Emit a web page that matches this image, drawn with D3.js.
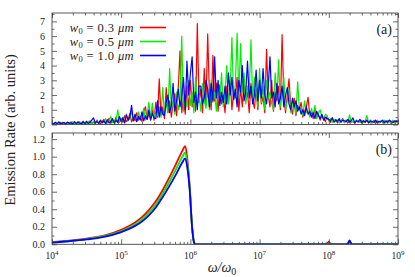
<!DOCTYPE html>
<html>
<head>
<meta charset="utf-8">
<script src="https://cdn.jsdelivr.net/npm/d3@7"></script>
<style>
  body { margin: 0; background: #fff; }
  text { font-family: "Liberation Serif", "DejaVu Serif", serif; fill: #222; }
  .domain { display: none; }
  .tick line { stroke: #444; stroke-width: 0.8; }
</style>
</head>
<body>
<svg id="chart" width="415" height="277"></svg>
<script>
// panel (a): emission spectrum, log10(omega/omega0) sample positions
const logOmegaA = [
  4.000, 4.025, 4.050, 4.075, 4.100, 4.125, 4.150, 4.175, 4.200, 4.225,
  4.250, 4.275, 4.300, 4.325, 4.350, 4.375, 4.400, 4.425, 4.450, 4.475,
  4.500, 4.525, 4.550, 4.575, 4.600, 4.625, 4.650, 4.675, 4.700, 4.725,
  4.750, 4.775, 4.800, 4.825, 4.850, 4.875, 4.900, 4.925, 4.950, 4.975,
  5.000, 5.025, 5.050, 5.075, 5.100, 5.125, 5.150, 5.175, 5.200, 5.225,
  5.250, 5.275, 5.300, 5.325, 5.350, 5.375, 5.400, 5.425, 5.450, 5.475,
  5.500, 5.525, 5.550, 5.575, 5.600, 5.625, 5.650, 5.675, 5.700, 5.725,
  5.750, 5.775, 5.800, 5.825, 5.850, 5.875, 5.900, 5.925, 5.950, 5.975,
  6.000, 6.025, 6.050, 6.075, 6.100, 6.125, 6.150, 6.175, 6.200, 6.225,
  6.250, 6.275, 6.300, 6.325, 6.350, 6.375, 6.400, 6.425, 6.450, 6.475,
  6.500, 6.525, 6.550, 6.575, 6.600, 6.625, 6.650, 6.675, 6.700, 6.725,
  6.750, 6.775, 6.800, 6.825, 6.850, 6.875, 6.900, 6.925, 6.950, 6.975,
  7.000, 7.025, 7.050, 7.075, 7.100, 7.125, 7.150, 7.175, 7.200, 7.225,
  7.250, 7.275, 7.300, 7.325, 7.350, 7.375, 7.400, 7.425, 7.450, 7.475,
  7.500, 7.525, 7.550, 7.575, 7.600, 7.625, 7.650, 7.675, 7.700, 7.725,
  7.750, 7.775, 7.800, 7.825, 7.850, 7.875, 7.900, 7.925, 7.950, 7.975,
  8.000, 8.025, 8.050, 8.075, 8.100, 8.125, 8.150, 8.175, 8.200, 8.225,
  8.250, 8.275, 8.300, 8.325, 8.350, 8.375, 8.400, 8.425, 8.450, 8.475,
  8.500, 8.525, 8.550, 8.575, 8.600, 8.625, 8.650, 8.675, 8.700, 8.725,
  8.750, 8.775, 8.800, 8.825, 8.850, 8.875, 8.900, 8.925, 8.950, 8.975,
  9.000
];
const rateA03 = [
  0.08, 0.02, 0.12, 0.05, 0.03, 0.14, 0.04, 0.10, 0.02, 0.15,
  0.05, 0.18, 0.03, 0.12, 0.06, 0.20, 0.04, 0.10, 0.22, 0.05,
  0.15, 0.08, 0.25, 0.04, 0.18, 0.06, 0.30, 0.10, 0.05, 0.22,
  0.35, 0.08, 0.20, 0.42, 0.10, 0.30, 0.15, 0.50, 0.12, 0.28,
  0.40, 0.15, 0.60, 0.20, 0.35, 0.75, 0.18, 0.45, 0.25, 0.80,
  0.30, 0.55, 0.20, 0.90, 1.20, 0.35, 0.70, 0.40, 1.00, 0.30,
  1.50, 0.50, 3.10, 0.60, 1.20, 0.40, 2.50, 0.80, 1.60, 0.50,
  1.40, 2.10, 0.60, 2.50, 5.00, 0.80, 1.80, 0.70, 2.60, 1.00,
  3.00, 1.20, 2.20, 0.90, 6.85, 1.50, 2.40, 0.80, 3.80, 1.30,
  6.15, 2.00, 1.00, 4.70, 1.60, 2.80, 0.90, 2.70, 1.40, 2.00,
  0.80, 2.60, 1.50, 3.00, 1.00, 2.20, 1.80, 3.20, 0.90, 2.50,
  1.20, 3.00, 1.60, 2.20, 0.80, 2.80, 1.70, 1.10, 2.40, 1.00,
  3.20, 1.40, 1.90, 0.80, 5.10, 2.00, 1.20, 3.00, 0.90, 2.20,
  1.60, 2.60, 1.00, 6.10, 1.80, 0.80, 2.00, 3.10, 1.20, 0.70,
  1.80, 0.60, 1.30, 1.00, 1.50, 0.50, 0.90, 1.20, 1.85, 0.60,
  0.80, 0.40, 1.10, 0.50, 0.70, 0.30, 0.60, 0.40, 0.20, 0.55,
  0.30, 0.15, 0.45, 0.20, 0.35, 0.10, 0.30, 0.20, 0.40, 0.12,
  0.25, 0.10, 0.30, 0.15, 0.22, 0.08, 0.28, 0.15, 0.20, 0.10,
  0.25, 0.12, 0.30, 0.10, 0.20, 0.15, 0.28, 0.08, 0.22, 0.12,
  0.18, 0.30, 0.10, 0.22, 0.15, 0.25, 0.08, 0.20, 0.12, 0.28,
  0.15
];
const rateA05 = [
  0.03, 0.10, 0.05, 0.02, 0.12, 0.04, 0.15, 0.03, 0.08, 0.05,
  0.14, 0.04, 0.18, 0.06, 0.10, 0.03, 0.20, 0.08, 0.05, 0.16,
  0.06, 0.22, 0.10, 0.05, 0.18, 0.08, 0.25, 0.05, 0.30, 0.10,
  0.15, 0.40, 0.10, 0.25, 0.55, 0.12, 0.30, 0.20, 1.00, 0.15,
  0.30, 0.50, 0.20, 0.70, 0.25, 0.40, 0.90, 0.30, 0.60, 0.20,
  0.85, 0.35, 0.50, 1.10, 0.30, 0.70, 1.50, 0.40, 1.45, 0.50,
  0.90, 0.60, 1.20, 0.50, 2.50, 0.70, 1.40, 0.80, 3.80, 0.90,
  1.60, 0.70, 2.20, 1.00, 1.50, 6.00, 0.90, 1.80, 1.20, 3.00,
  1.30, 2.20, 0.80, 3.20, 1.40, 2.00, 0.90, 2.80, 1.60, 1.10,
  2.40, 1.00, 3.00, 1.50, 2.20, 0.90, 2.60, 1.70, 3.50, 1.20,
  2.00, 4.00, 1.40, 2.50, 5.90, 1.60, 2.80, 6.20, 1.80, 5.50,
  2.20, 3.50, 1.40, 2.60, 2.00, 5.75, 1.60, 3.20, 2.40, 1.20,
  3.80, 1.50, 2.60, 1.00, 3.00, 1.80, 2.20, 1.40, 1.00, 3.50,
  1.80, 4.40, 1.20, 2.00, 3.20, 1.00, 1.60, 2.40, 0.80, 1.50,
  1.30, 0.70, 2.90, 1.00, 1.20, 0.60, 1.60, 0.80, 0.90, 0.50,
  1.10, 0.60, 1.30, 0.40, 0.80, 1.00, 0.50, 0.40, 0.70, 0.60,
  0.25, 0.40, 0.15, 0.35, 0.20, 0.30, 0.10, 0.25, 0.35, 0.15,
  0.30, 0.20, 0.65, 0.15, 0.25, 0.10, 0.30, 0.20, 0.15, 0.28,
  0.12, 0.25, 0.60, 0.15, 0.30, 0.10, 0.25, 0.18, 0.30, 0.12,
  0.25, 0.15, 0.30, 0.10, 0.28, 0.20, 0.12, 0.30, 0.15, 0.22,
  0.10
];
const rateA10 = [
  0.12, 0.04, 0.15, 0.06, 0.18, 0.03, 0.10, 0.14, 0.05, 0.16,
  0.08, 0.12, 0.04, 0.20, 0.06, 0.15, 0.10, 0.05, 0.18, 0.08,
  0.22, 0.06, 0.15, 0.30, 0.45, 0.10, 0.20, 0.08, 0.28, 0.12,
  0.25, 0.06, 0.32, 0.10, 0.20, 0.40, 0.08, 0.30, 0.15, 0.55,
  0.20, 0.45, 0.10, 0.65, 0.30, 0.50, 1.30, 0.25, 0.70, 0.20,
  0.55, 0.30, 0.85, 0.25, 0.60, 0.35, 1.00, 0.30, 0.75, 0.45,
  0.40, 1.60, 0.50, 1.20, 0.70, 0.60, 1.50, 2.00, 0.80, 1.30,
  2.80, 0.90, 1.60, 2.40, 1.20, 1.80, 3.20, 1.00, 4.30, 2.00,
  3.50, 4.60, 1.50, 2.20, 1.00, 2.60, 2.60, 1.40, 1.80, 3.00,
  2.40, 1.20, 2.80, 1.60, 4.60, 1.80, 3.00, 1.30, 2.20, 1.50,
  2.60, 1.40, 3.50, 2.00, 3.20, 1.70, 2.40, 1.20, 3.00, 2.20,
  4.00, 1.60, 2.20, 4.30, 1.80, 2.60, 1.40, 2.00, 3.70, 1.60,
  3.00, 1.80, 3.80, 2.00, 1.40, 2.60, 4.60, 1.80, 2.20, 1.20,
  2.80, 1.40, 1.80, 2.60, 1.20, 2.00, 2.50, 1.40, 1.00, 1.80,
  1.20, 1.60, 0.90, 1.20, 0.70, 1.00, 0.60, 1.20, 0.70, 0.90,
  0.50, 0.80, 0.40, 0.90, 0.60, 0.40, 0.70, 0.30, 0.50, 0.40,
  0.35, 0.25, 0.45, 0.15, 0.30, 0.20, 0.40, 0.15, 0.30, 0.25,
  0.20, 0.35, 0.15, 0.28, 0.45, 0.12, 0.25, 0.20, 0.35, 0.15,
  0.25, 0.18, 0.30, 0.12, 0.25, 0.20, 0.15, 0.30, 0.12, 0.22,
  0.18, 0.28, 0.12, 0.25, 0.15, 0.30, 0.20, 0.12, 0.25, 0.18,
  0.25
];

// panel (b): smooth spectra, log10(omega/omega0)
const logOmegaB = [
  4.00, 4.25, 4.50, 4.75, 5.00, 5.20, 5.30, 5.40, 5.50, 5.60,
  5.70, 5.80, 5.88, 5.925, 5.956, 5.99, 6.024, 6.05, 6.07, 7.97,
  8.00, 8.03, 8.27, 8.30, 8.33, 9.00
];
const rateB03 = [
  0.025, 0.042, 0.066, 0.100, 0.165, 0.250, 0.310, 0.390, 0.490, 0.620,
  0.770, 0.930, 1.060, 1.120, 0.970, 0.660, 0.200, 0.030, 0.000, 0.000,
  0.030, 0.000, 0.000, 0.035, 0.000, 0.000
];
const rateB05 = [
  0.022, 0.038, 0.060, 0.092, 0.150, 0.230, 0.285, 0.360, 0.455, 0.580,
  0.720, 0.870, 0.995, 1.050, 0.920, 0.640, 0.200, 0.030, 0.000, 0.000,
  0.010, 0.000, 0.000, 0.030, 0.000, 0.000
];
const rateB10 = [
  0.020, 0.035, 0.055, 0.085, 0.140, 0.210, 0.260, 0.330, 0.420, 0.540,
  0.670, 0.810, 0.930, 0.980, 0.870, 0.620, 0.200, 0.030, 0.000, 0.000,
  0.000, 0.000, 0.000, 0.045, 0.000, 0.000
];

const seriesNames = ['0.3', '0.5', '1.0'];
const colors = ['#ff0000', '#00ee00', '#0000ff'];
const yTicksA = [0, 1, 2, 3, 4, 5, 6, 7];
const yTicksB = [0, 0.2, 0.4, 0.6, 0.8, 1.0, 1.2];
const decades = [4, 5, 6, 7, 8, 9];

const svg = d3.select('#chart');
const left = 52, right = 398;
const panelA = {top: 13, bottom: 124.5, ymax: 7.57};
const panelB = {top: 133, bottom: 244.3, ymax: 1.27};

const x = d3.scaleLog().domain([1e4, 1e9]).range([left, right]);

// minor log ticks 2..9 per decade
const minorX = [];
decades.slice(0, -1).forEach(d => {
  for (let m = 2; m <= 9; m++) minorX.push(m * Math.pow(10, d));
});
const majorX = decades.map(d => Math.pow(10, d));

function drawPanel(p, id, xs, ys, ticks, minorStep, label, curve, lw) {
  const y = d3.scaleLinear().domain([0, p.ymax]).range([p.bottom, p.top]);
  const h = p.bottom - p.top;

  svg.append('clipPath').attr('id', 'clip' + id)
      .append('rect')
      .attr('x', left).attr('y', p.top)
      .attr('width', right - left).attr('height', h);

  const line = d3.line()
      .x(d => x(Math.pow(10, d[0])))
      .y(d => y(d[1]))
      .curve(curve);

  const g = svg.append('g').attr('clip-path', `url(#clip${id})`);
  ys.forEach((vals, i) => {
    g.append('path')
        .datum(xs.map((v, k) => [v, vals[k]]))
        .attr('fill', 'none')
        .attr('stroke', colors[i])
        .attr('stroke-width', lw)
        .attr('stroke-linejoin', 'round')
        .attr('d', line);
  });

  // minor y ticks
  const minorY = d3.range(0, p.ymax, minorStep).filter(v => !ticks.some(t => Math.abs(t - v) < 1e-6));

  // x axes, bottom and top, ticks pointing inward
  svg.append('g').attr('transform', `translate(0,${p.bottom})`)
      .call(d3.axisBottom(x).tickValues(majorX).tickSize(-5).tickFormat(''));
  svg.append('g').attr('transform', `translate(0,${p.bottom})`)
      .call(d3.axisBottom(x).tickValues(minorX).tickSize(-2.5).tickFormat(''));
  svg.append('g').attr('transform', `translate(0,${p.top})`)
      .call(d3.axisTop(x).tickValues(majorX).tickSize(-5).tickFormat(''));
  svg.append('g').attr('transform', `translate(0,${p.top})`)
      .call(d3.axisTop(x).tickValues(minorX).tickSize(-2.5).tickFormat(''));

  // y axes
  svg.append('g').attr('transform', `translate(${left},0)`)
      .call(d3.axisLeft(y).tickValues(ticks).tickSize(-5).tickPadding(7)
          .tickFormat(ticks[1] < 1 ? d3.format('.1f') : d3.format('d')))
      .selectAll('text').style('font-size', '10px').style('font-family', '"Liberation Serif", serif');
  svg.append('g').attr('transform', `translate(${left},0)`)
      .call(d3.axisLeft(y).tickValues(minorY).tickSize(-2.5).tickFormat(''));
  svg.append('g').attr('transform', `translate(${right},0)`)
      .call(d3.axisRight(y).tickValues(ticks).tickSize(-5).tickFormat(''));
  svg.append('g').attr('transform', `translate(${right},0)`)
      .call(d3.axisRight(y).tickValues(minorY).tickSize(-2.5).tickFormat(''));

  // frame
  svg.append('rect')
      .attr('x', left).attr('y', p.top)
      .attr('width', right - left).attr('height', h)
      .attr('fill', 'none').attr('stroke', '#444').attr('stroke-width', 0.9);

  svg.append('text')
      .attr('x', right - 6).attr('y', p.top + 21)
      .attr('text-anchor', 'end')
      .style('font-size', '14px')
      .text(label);

  return y;
}

drawPanel(panelA, 'a', logOmegaA, [rateA03, rateA05, rateA10], yTicksA, 0.5, '(a)', d3.curveLinear, 1.2);
drawPanel(panelB, 'b', logOmegaB, [rateB03, rateB05, rateB10], yTicksB, 0.1, '(b)', d3.curveMonotoneX, 1.8);

// x tick labels 10^n
majorX.forEach((v, i) => {
  const t = svg.append('text')
      .attr('x', x(v)).attr('y', 259)
      .attr('text-anchor', 'middle')
      .style('font-size', '9.5px');
  t.append('tspan').text('10');
  t.append('tspan').attr('dy', -4).style('font-size', '7px').text(decades[i]);
});

// legend
seriesNames.forEach((name, i) => {
  const yy = 27.5 + i * 14;
  const t = svg.append('text')
      .attr('x', 134).attr('y', yy + 4.5)
      .attr('text-anchor', 'end')
      .style('font-size', '12.5px')
      .style('letter-spacing', '0.4px');
  t.append('tspan').style('font-style', 'italic').text('w');
  t.append('tspan').attr('dy', 2).style('font-size', '8.5px').text('0');
  t.append('tspan').attr('dy', -2).text(' = ' + name + ' ');
  t.append('tspan').style('font-style', 'italic').text('\u03bcm');
  svg.append('line')
      .attr('x1', 140).attr('x2', 166)
      .attr('y1', yy).attr('y2', yy)
      .attr('stroke', colors[i]).attr('stroke-width', 1.6);
});

// axis titles
svg.append('text')
    .attr('transform', 'translate(15,130) rotate(-90)')
    .attr('text-anchor', 'middle')
    .style('font-size', '14.5px')
    .text('Emission Rate (arb. units)');

const xt = svg.append('text')
    .attr('x', 222).attr('y', 272)
    .attr('text-anchor', 'middle')
    .style('font-size', '14px');
xt.append('tspan').style('font-style', 'italic').text('\u03c9/\u03c9');
xt.append('tspan').attr('dy', 3).style('font-size', '10px').text('0');
</script>
</body>
</html>
